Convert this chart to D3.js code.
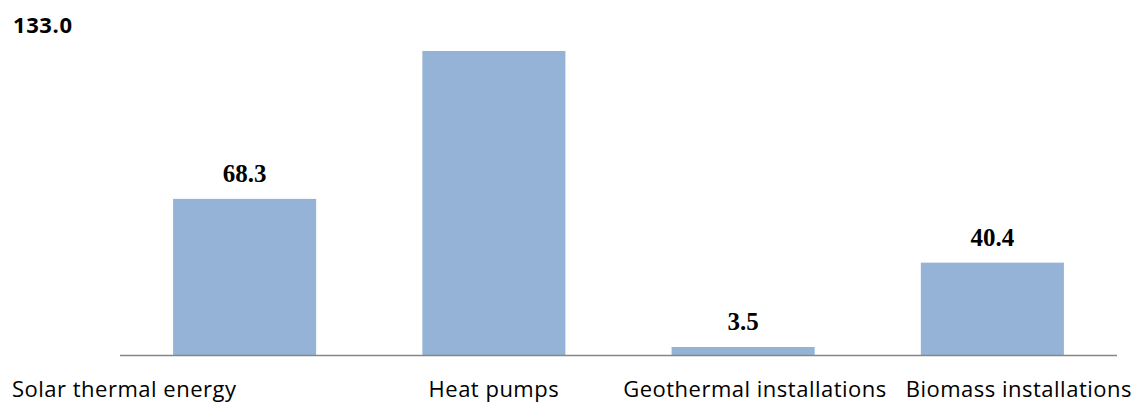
<!DOCTYPE html>
<html>
<head>
<meta charset="utf-8">
<script src="https://cdn.jsdelivr.net/npm/d3@7"></script>
<style>
  body { margin: 0; background: #fff; }
</style>
</head>
<body>
<svg></svg>
<script>
const width = 1135;
const height = 404;

// chart values
const categories = ["Solar thermal energy", "Heat pumps", "Geothermal installations", "Biomass installations"];
const values = [68.3, 133.0, 3.5, 40.4];
const valueLabels = ["68.3", "133.0", "3.5", "40.4"];

const svg = d3.select("svg")
    .attr("width", width)
    .attr("height", height);

const baseline = 355;
const x = d3.scaleBand().domain(categories).range([120, 1117]).paddingInner(0.426).paddingOuter(0.213);
const y = d3.scaleLinear().domain([0, 133]).range([baseline, 51]);

// bars
svg.selectAll("rect.bar")
  .data(values)
  .enter().append("rect")
  .attr("class", "bar")
  .attr("x", (d, i) => x(categories[i]))
  .attr("y", d => y(d))
  .attr("width", x.bandwidth())
  .attr("height", d => baseline - y(d))
  .attr("fill", "#95b3d7");

// axis line
svg.append("line")
  .attr("x1", 120).attr("x2", 1117)
  .attr("y1", baseline + 0.5).attr("y2", baseline + 0.5)
  .attr("stroke", "#868686")
  .attr("stroke-width", 1.5);

// value labels above bars (the tallest one sits top-left instead)
values.forEach((d, i) => {
  if (i === 1) return;
  svg.append("text")
    .attr("x", x(categories[i]) + x.bandwidth() / 2)
    .attr("y", y(d) - 17)
    .attr("text-anchor", "middle")
    .attr("font-family", "Liberation Serif, Times New Roman, serif")
    .attr("font-weight", "bold")
    .attr("font-size", "25px")
    .attr("fill", "#000")
    .text(valueLabels[i]);
});

svg.append("text")
  .attr("x", 13)
  .attr("y", 33)
  .attr("font-family", "Open Sans, sans-serif")
  .attr("font-weight", "bold")
  .attr("font-size", "22px")
  .attr("letter-spacing", "0.6px")
  .text(valueLabels[1]);

// category labels
const labelPos = [
  { x: 12, anchor: "start" },
  { x: x(categories[1]) + x.bandwidth() / 2, anchor: "middle" },
  { x: 755, anchor: "middle" },
  { x: 1132, anchor: "end" }
];
svg.selectAll("text.cat")
  .data(categories)
  .enter().append("text")
  .attr("class", "cat")
  .attr("x", (d, i) => labelPos[i].x)
  .attr("y", 397)
  .attr("text-anchor", (d, i) => labelPos[i].anchor)
  .attr("font-family", "Open Sans, sans-serif")
  .attr("font-size", "22px")
  .attr("letter-spacing", "0.5px")
  .text(d => d);
</script>
</body>
</html>
